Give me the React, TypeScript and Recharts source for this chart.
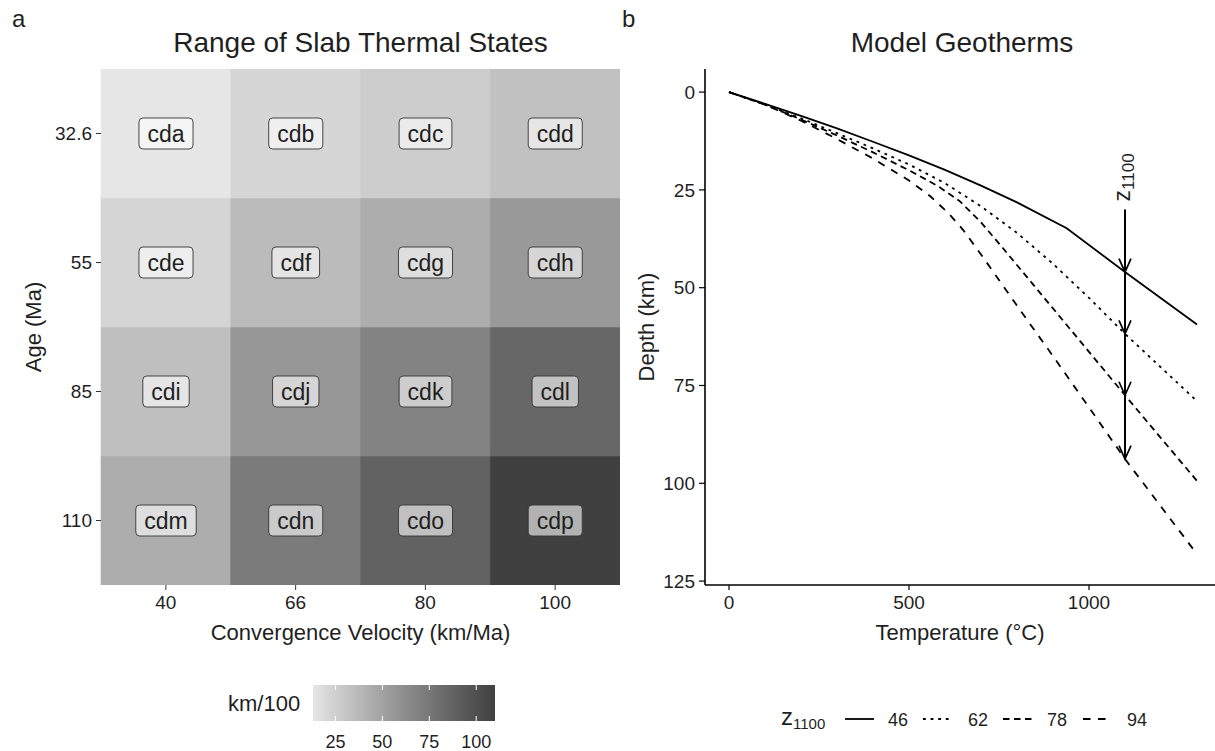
import React from "react";
import { BarChart, Bar, Cell, LabelList, XAxis, YAxis, LineChart, Line, Label } from "recharts";

// panel a: thermal parameter grid
const velocities = [40, 66, 80, 100];
const ages = [32.6, 55, 85, 110];
const phiAge32 = [13.0, 21.5, 26.1, 32.6];
const phiAge55 = [22.0, 36.3, 44.0, 55.0];
const phiAge85 = [34.0, 56.1, 68.0, 85.0];
const phiAge110 = [44.0, 72.6, 88.0, 110.0];
const codesAge32 = ["cda", "cdb", "cdc", "cdd"];
const codesAge55 = ["cde", "cdf", "cdg", "cdh"];
const codesAge85 = ["cdi", "cdj", "cdk", "cdl"];
const codesAge110 = ["cdm", "cdn", "cdo", "cdp"];
const phiLimits = [13.04, 110];
const phiTicks = [25, 50, 75, 100];

// panel b: geotherms [temperature C, depth km]
const geo46 = [[0, 0], [100, 3.0], [200, 6.1], [300, 9.3], [400, 12.7], [500, 16.2], [600, 19.9], [700, 23.9], [800, 28.2], [938, 34.8], [1100, 46], [1300, 59.4]];
const geo62 = [[0, 0], [100, 3.2], [200, 6.7], [300, 10.5], [400, 14.4], [500, 18.5], [600, 23.3], [700, 29.2], [800, 36.0], [900, 43.9], [1000, 52.6], [1100, 61.8], [1300, 79.0]];
const geo78 = [[0, 0], [100, 3.2], [200, 7.0], [300, 11.1], [400, 15.4], [500, 20.0], [580, 24.0], [640, 27.8], [700, 33.3], [760, 39.8], [900, 55.3], [1100, 77.5], [1300, 99.4]];
const geo94 = [[0, 0], [100, 3.2], [200, 7.3], [300, 12.0], [400, 17.0], [500, 22.6], [560, 26.7], [610, 31.0], [650, 35.2], [700, 41.5], [800, 54.6], [900, 67.5], [1000, 80.6], [1100, 93.8], [1300, 118.1]];
const z1100 = [46, 61.8, 77.5, 93.8];
const arrowStart = 30;
const arrowTemp = 1100;
const tempTicks = [0, 500, 1000];
const depthTicks = [0, 25, 50, 75, 100, 125];

const INK = "#1f1f1f";
const FONT = "'Liberation Sans', Arial, Helvetica, sans-serif";

// grey90 -> grey25, interpolated on CIE lightness like ggplot's gradient
const toLinear = (c: number) => (c <= 0.04045 ? c / 12.92 : Math.pow((c + 0.055) / 1.055, 2.4));
const lightness = (g: number) => {
  const y = toLinear(g / 255);
  const f = y > 0.008856 ? Math.cbrt(y) : 7.787 * y + 16 / 116;
  return 116 * f - 16;
};
const L_LOW = lightness(229.5);
const L_HIGH = lightness(63.75);
const greyFor = (v: number) => {
  const t = Math.min(1, Math.max(0, (v - phiLimits[0]) / (phiLimits[1] - phiLimits[0])));
  const L = L_LOW + t * (L_HIGH - L_LOW);
  const fy = (L + 16) / 116;
  const Y = L > 8 ? fy * fy * fy : L / 903.3;
  const c = Y <= 0.0031308 ? 12.92 * Y : 1.055 * Math.pow(Y, 1 / 2.4) - 0.055;
  const g = Math.round(Math.min(1, Math.max(0, c)) * 255);
  return `rgb(${g},${g},${g})`;
};

const heatRows = [
  { age: ages[0], phi: phiAge32, codes: codesAge32 },
  { age: ages[1], phi: phiAge55, codes: codesAge55 },
  { age: ages[2], phi: phiAge85, codes: codesAge85 },
  { age: ages[3], phi: phiAge110, codes: codesAge110 },
];

const heatData = velocities.map((v, i) => {
  const row: Record<string, string | number> = { v: String(v) };
  heatRows.forEach((r, k) => {
    row[`s${k}`] = 1;
    row[`c${k}`] = r.codes[i];
  });
  return row;
});

const toPoints = (arr: number[][]) => arr.map(([t, d]) => ({ t, d }));
const geotherms = [
  { z: z1100[0], points: toPoints(geo46), dash: undefined as string | undefined },
  { z: z1100[1], points: toPoints(geo62), dash: "2.8 4.8" },
  { z: z1100[2], points: toPoints(geo78), dash: "6.5 4.5" },
  { z: z1100[3], points: toPoints(geo94), dash: "7.5 7.5" },
];
const arrowPoints = [arrowStart, ...z1100].map((d) => ({ t: arrowTemp, d }));

const glyphW: Record<string, number> = {
  a: 556, b: 556, c: 500, d: 556, e: 556, f: 278, g: 556, h: 556,
  i: 222, j: 222, k: 500, l: 222, m: 833, n: 556, o: 556, p: 556,
};

const CodeLabel = (props: any) => {
  const { x, y, width, height, value } = props;
  const text = String(value);
  const cx = Number(x) + Number(width) / 2;
  const cy = Number(y) + Number(height) / 2;
  const w = (text.split("").reduce((s, ch) => s + (glyphW[ch] || 556), 0) * 23) / 1000 + 17;
  const h = 31;
  return (
    <g>
      <rect x={cx - w / 2} y={cy - h / 2} width={w} height={h} rx={4} ry={4}
        fill="#ffffff" fillOpacity={0.6} stroke="#333" strokeWidth={0.9} />
      <text x={cx} y={cy + 8} textAnchor="middle" fontSize={23} fill={INK}>{text}</text>
    </g>
  );
};

const ArrowDot = (props: any) => {
  const { cx, cy, index } = props;
  if (index === 0) {
    return (
      <text key="zlab" transform={`translate(${cx + 5},${cy - 8}) rotate(-90)`} fontSize={23} fill={INK}>
        z<tspan fontSize={17} dy={4}>1100</tspan>
      </text>
    );
  }
  return (
    <path key={`head${index}`} d={`M${cx - 6},${cy - 13.5} L${cx},${cy} L${cx + 6},${cy - 13.5}`}
      fill="none" stroke="#000" strokeWidth={1.7} />
  );
};

const titleStyle = { fontSize: 28, fill: INK };
const axisTitleSize = 22;
const tickFont = { fontSize: 19, fill: INK };

export default function App() {
  const barX0 = 313;
  const barX1 = 495;
  const phiToX = (v: number) => barX0 + ((v - phiLimits[0]) / (phiLimits[1] - phiLimits[0])) * (barX1 - barX0);
  const gradStops = Array.from({ length: 11 }, (_, i) => phiLimits[0] + (i / 10) * (phiLimits[1] - phiLimits[0]));
  const legendItems = [
    { x: 845, tx: 888 },
    { x: 923, tx: 968 },
    { x: 1003, tx: 1047 },
    { x: 1083, tx: 1127 },
  ];

  return (
    <div style={{ position: "absolute", left: 0, top: 0, width: 1215, height: 751, background: "#fff", fontFamily: FONT, overflow: "hidden" }}>
      <div style={{ position: "absolute", left: 0, top: 0 }}>
        <BarChart width={620} height={660} data={heatData} margin={{ top: 69, right: 0, left: 30, bottom: 0 }}
          barCategoryGap={0} barGap={0}>
          <XAxis dataKey="v" type="category" height={75} axisLine={false} tickSize={5} tickMargin={6}
            tickLine={{ stroke: "#333" }} tick={tickFont}>
            <Label content={() => (
              <text x={360.5} y={640} textAnchor="middle" fontSize={axisTitleSize} fill={INK}>Convergence Velocity (km/Ma)</text>
            )} />
          </XAxis>
          <YAxis type="number" domain={[0, 4]} ticks={[0.5, 1.5, 2.5, 3.5]} allowDataOverflow width={71}
            tickFormatter={(v: number) => String(ages[3 - Math.floor(v)])} axisLine={false} tickSize={5} tickMargin={4}
            tickLine={{ stroke: "#333" }} tick={tickFont}>
            <Label content={() => (
              <text transform="translate(41,327) rotate(-90)" textAnchor="middle" fontSize={axisTitleSize} fill={INK}>Age (Ma)</text>
            )} />
          </YAxis>
          {[3, 2, 1, 0].map((k) => (
            <Bar key={k} dataKey={`s${k}`} stackId="grid" isAnimationActive={false}>
              {velocities.map((v, i) => (
                <Cell key={v} fill={greyFor(heatRows[k].phi[i])} stroke={greyFor(heatRows[k].phi[i])} strokeWidth={0.6} />
              ))}
              <LabelList dataKey={`c${k}`} content={CodeLabel} />
            </Bar>
          ))}
        </BarChart>
      </div>

      <div style={{ position: "absolute", left: 620, top: 0 }}>
        <LineChart width={595} height={660} margin={{ top: 69, right: 0, left: 20, bottom: 0 }}>
          <XAxis type="number" dataKey="t" domain={[-66.7, 1350]} ticks={tempTicks} allowDataOverflow height={75}
            axisLine={{ stroke: "#000", strokeWidth: 1.6 }} tickLine={{ stroke: "#000", strokeWidth: 1.2 }}
            tickSize={5} tickMargin={6} tick={tickFont}>
            <Label content={() => (
              <text x={340} y={640} textAnchor="middle" fontSize={axisTitleSize} fill={INK}>Temperature (°C)</text>
            )} />
          </XAxis>
          <YAxis type="number" dataKey="d" reversed domain={[-5.9, 126]} ticks={depthTicks} allowDataOverflow width={65}
            axisLine={{ stroke: "#000", strokeWidth: 1.6 }} tickLine={{ stroke: "#000", strokeWidth: 1.2 }}
            tickSize={6} tickMargin={4} tick={tickFont}>
            <Label content={() => (
              <text transform="translate(34,327) rotate(-90)" textAnchor="middle" fontSize={axisTitleSize} fill={INK}>Depth (km)</text>
            )} />
          </YAxis>
          {geotherms.map((g) => (
            <Line key={g.z} data={g.points} dataKey="d" type="linear" stroke="#000" strokeWidth={1.8}
              strokeDasharray={g.dash} dot={false} activeDot={false} isAnimationActive={false} />
          ))}
          <Line data={arrowPoints} dataKey="d" type="linear" stroke="#000" strokeWidth={2}
            dot={ArrowDot} activeDot={false} isAnimationActive={false} />
        </LineChart>
      </div>

      <svg width={1215} height={751} style={{ position: "absolute", left: 0, top: 0, pointerEvents: "none" }}>
        <defs>
          <linearGradient id="phiGrad" x1="0" x2="1" y1="0" y2="0">
            {gradStops.map((v, i) => (
              <stop key={i} offset={`${i * 10}%`} stopColor={greyFor(v)} />
            ))}
          </linearGradient>
        </defs>
        <text x={12} y={27} fontSize={24} fill={INK}>a</text>
        <text x={622} y={27} fontSize={24} fill={INK}>b</text>
        <text x={360.5} y={52} textAnchor="middle" style={titleStyle}>Range of Slab Thermal States</text>
        <text x={962} y={52} textAnchor="middle" style={titleStyle}>Model Geotherms</text>

        {/* fill legend */}
        <text x={228} y={711} fontSize={22} fill={INK}>km/100</text>
        <rect x={barX0} y={685} width={barX1 - barX0} height={36} fill="url(#phiGrad)" />
        {phiTicks.map((t) => (
          <g key={t}>
            <line x1={phiToX(t)} x2={phiToX(t)} y1={685} y2={690} stroke="#fff" strokeWidth={1} />
            <line x1={phiToX(t)} x2={phiToX(t)} y1={716} y2={721} stroke="#fff" strokeWidth={1} />
            <text x={phiToX(t)} y={748} textAnchor="middle" fontSize={18} fill={INK}>{t}</text>
          </g>
        ))}

        {/* linetype legend */}
        <text x={781} y={725} fontSize={24} fill={INK}>
          z<tspan fontSize={15} dy={4}>1100</tspan>
        </text>
        {geotherms.map((g, i) => (
          <g key={g.z}>
            <line x1={legendItems[i].x} x2={legendItems[i].x + 29} y1={719} y2={719} stroke="#000" strokeWidth={1.8}
              strokeDasharray={g.dash} />
            <text x={legendItems[i].tx} y={725.5} fontSize={18} fill={INK}>{Math.round(g.z)}</text>
          </g>
        ))}
      </svg>
    </div>
  );
}
